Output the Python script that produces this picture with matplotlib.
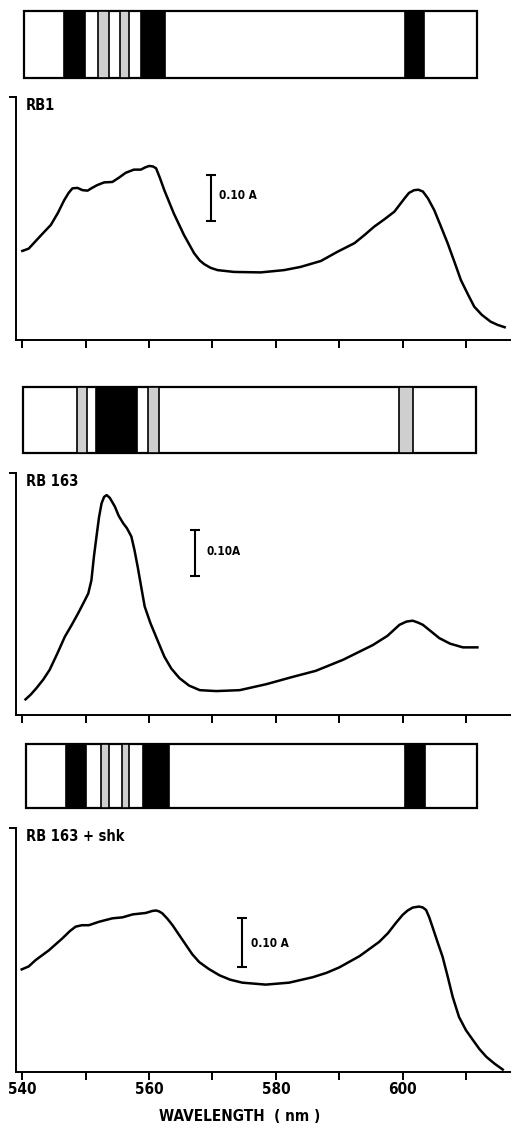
import matplotlib
matplotlib.use("Agg")
import matplotlib.pyplot as plt
from matplotlib.patches import Rectangle

plt.rcParams['font.family'] = ['DejaVu Sans']
plt.rcParams['font.stretch'] = 'condensed'

# absorbance spectra (wavelength nm, absorbance A)
rb1_wl = [540.0, 541.0, 541.8, 543.0, 544.5, 545.6, 546.6, 547.3, 547.9, 548.7, 549.5, 550.3,
          551.0, 551.8, 552.9, 554.2, 555.2, 556.3, 557.6, 558.7, 559.4, 560.0, 560.6, 561.1,
          561.7, 562.4, 563.9, 565.5, 567.1, 568.0, 568.7, 569.7, 570.8, 573.4, 577.6, 581.3,
          583.9, 587.1, 589.7, 592.4, 594.0, 595.5, 597.2, 598.7, 600.3, 601.0, 601.8, 602.5,
          603.2, 604.0, 605.0, 606.0, 607.1, 608.2, 609.2, 610.3, 611.3, 612.5, 613.9, 615.0, 616.1]
rb1_abs = [0.195, 0.200, 0.212, 0.230, 0.252, 0.278, 0.306, 0.322, 0.332, 0.333, 0.328, 0.327,
           0.333, 0.339, 0.345, 0.346, 0.355, 0.366, 0.373, 0.373, 0.378, 0.381, 0.380, 0.376,
           0.355, 0.328, 0.277, 0.230, 0.190, 0.174, 0.166, 0.158, 0.153, 0.149, 0.148, 0.153,
           0.160, 0.173, 0.193, 0.212, 0.230, 0.248, 0.265, 0.281, 0.310, 0.322, 0.328, 0.329,
           0.325, 0.310, 0.284, 0.250, 0.212, 0.170, 0.131, 0.100, 0.073, 0.055, 0.040, 0.033, 0.028]

rb163_wl = [540.5, 541.3, 542.2, 543.3, 544.3, 545.5, 546.7, 547.8, 548.8, 549.7, 550.4, 550.9,
            551.3, 551.7, 552.1, 552.5, 552.9, 553.3, 553.8, 554.6, 555.2, 555.9, 556.5, 557.2,
            557.7, 558.2, 558.8, 559.3, 560.2, 561.1, 561.7, 562.4, 563.5, 564.8, 566.3, 568.0,
            570.6, 574.3, 578.5, 582.7, 586.3, 590.6, 595.3, 597.6, 599.5, 600.6, 601.6, 602.4,
            603.2, 605.8, 607.5, 609.5, 611.8]
rb163_abs = [0.034, 0.044, 0.058, 0.077, 0.098, 0.133, 0.170, 0.196, 0.221, 0.245, 0.264, 0.293,
             0.345, 0.388, 0.430, 0.460, 0.474, 0.478, 0.472, 0.453, 0.433, 0.417, 0.406, 0.388,
             0.358, 0.322, 0.275, 0.236, 0.200, 0.170, 0.150, 0.127, 0.101, 0.080, 0.064, 0.054,
             0.052, 0.054, 0.067, 0.083, 0.096, 0.120, 0.152, 0.172, 0.196, 0.203, 0.205, 0.201,
             0.196, 0.167, 0.155, 0.147, 0.147]

shk_wl = [539.9, 541.0, 542.1, 544.2, 546.3, 547.5, 548.4, 549.4, 550.5, 552.1, 554.2, 555.8,
          557.4, 559.5, 560.5, 561.1, 561.6, 562.1, 562.9, 563.7, 564.8, 565.8, 566.8, 567.9,
          569.4, 571.1, 572.8, 574.7, 578.4, 582.1, 585.8, 588.0, 590.0, 593.2, 596.3, 597.7,
          598.9, 600.0, 600.8, 601.6, 602.6, 603.2, 603.7, 604.2, 604.7, 605.5, 606.3, 607.1,
          607.9, 608.9, 610.0, 611.1, 612.1, 613.2, 614.5, 615.8]
shk_abs = [0.209, 0.215, 0.228, 0.248, 0.272, 0.287, 0.296, 0.299, 0.299, 0.306, 0.313, 0.315,
           0.321, 0.324, 0.328, 0.329, 0.327, 0.323, 0.312, 0.299, 0.278, 0.259, 0.240, 0.224,
           0.210, 0.197, 0.188, 0.182, 0.178, 0.182, 0.193, 0.202, 0.213, 0.236, 0.265, 0.283,
           0.303, 0.320, 0.329, 0.335, 0.337, 0.335, 0.330, 0.315, 0.296, 0.265, 0.235, 0.195,
           0.153, 0.112, 0.085, 0.065, 0.047, 0.031, 0.017, 0.005]

# spectroscope band diagrams: (start nm, end nm, kind)
rb1_box = (540.2, 611.7)
rb1_bands = [(546.5, 549.9, 'dark'), (552.0, 553.6, 'faint'), (555.4, 556.8, 'faint'),
             (558.8, 562.5, 'dark'), (600.3, 603.3, 'dark')]
rb163_box = (540.1, 611.5)
rb163_bands = [(548.6, 550.2, 'faint'), (551.7, 558.1, 'dark'), (559.8, 561.5, 'faint'),
               (599.4, 601.6, 'faint')]
shk_box = (540.6, 611.8)
shk_bands = [(546.85, 550.1, 'dark'), (552.4, 553.7, 'faint'), (555.7, 556.9, 'faint'),
             (559.1, 563.2, 'dark'), (600.4, 603.6, 'dark')]

titles = ['RB1', 'RB 163', 'RB 163 + shk']
scale_value = 0.10
scale_text = ['0.10 A', '0.10A', '0.10 A']
xticks = [540, 550, 560, 570, 580, 590, 600, 610]
xticklabels = ['540', '', '560', '', '580', '', '600', '']

W, H = 511, 1128
fig = plt.figure(figsize=(W / 100, H / 100), dpi=100)
XLIM = (539.0, 617.1)


def px_axes(left, top, right, bottom):
    return fig.add_axes([left / W, 1 - bottom / H, (right - left) / W, (bottom - top) / H])


panels = [
    dict(wl=rb1_wl, a=rb1_abs, box=rb1_box, bands=rb1_bands, band_px=(11, 78),
         plot_px=(97, 340), ytop=0.532, bar=(569.7, 0.311), lab=(571.0, 0.316)),
    dict(wl=rb163_wl, a=rb163_abs, box=rb163_box, bands=rb163_bands, band_px=(387, 453),
         plot_px=(473, 715), ytop=0.526, bar=(567.2, 0.352), lab=(569.0, 0.355)),
    dict(wl=shk_wl, a=shk_abs, box=shk_box, bands=shk_bands, band_px=(744, 808),
         plot_px=(828, 1072), ytop=0.497, bar=(574.6, 0.263), lab=(576.0, 0.262)),
]

for i, p in enumerate(panels):
    # band diagram
    bax = px_axes(16, p['band_px'][0], 511, p['band_px'][1])
    bax.set_xlim(*XLIM)
    bax.set_ylim(0, 1)
    bax.axis('off')
    x0, x1 = p['box']
    bax.add_patch(Rectangle((x0, 0), x1 - x0, 1, facecolor='white', edgecolor='black',
                            lw=1.6, clip_on=False))
    for s, e, kind in p['bands']:
        fc = 'black' if kind == 'dark' else '#cfcfcf'
        bax.add_patch(Rectangle((s, 0), e - s, 1, facecolor=fc, edgecolor='black',
                                lw=1.2, clip_on=False))

    # absorbance spectrum
    ax = px_axes(16, p['plot_px'][0], 511, p['plot_px'][1])
    ax.plot(p['wl'], p['a'], color='black', lw=1.8, solid_joinstyle='round')
    ax.set_xlim(*XLIM)
    ax.set_ylim(0, p['ytop'])
    for side in ['top', 'right']:
        ax.spines[side].set_visible(False)
    for side in ['left', 'bottom']:
        ax.spines[side].set_linewidth(1.4)
    ax.set_yticks([p['ytop']])
    ax.set_yticklabels([])
    ax.tick_params(axis='y', length=5, width=1.4, direction='out')
    ax.set_xticks(xticks)
    ax.tick_params(axis='x', length=5.5, width=1.4, direction='out', pad=1.5,
                   labelsize=11)
    if i == 2:
        ax.set_xticklabels(xticklabels, fontweight='bold')
        ax.set_xlabel('WAVELENGTH  ( nm )', fontsize=11, fontweight='bold')
        ax.xaxis.set_label_coords(0.4525, -0.152)
    else:
        ax.set_xticklabels([])

    ax.text(540.6, p['ytop'] * 0.995, titles[i], fontsize=10.5, fontweight='bold',
            va='top', ha='left')

    # 0.10 A scale bar
    bx, by = p['bar']
    ax.errorbar([bx], [by], yerr=[scale_value / 2], fmt='none', ecolor='black',
                elinewidth=1.5, capsize=3.5, capthick=1.5)
    ax.text(p['lab'][0], p['lab'][1], scale_text[i], fontsize=8.5, fontweight='bold',
            va='center', ha='left')

fig.savefig('out.png', dpi=100)
